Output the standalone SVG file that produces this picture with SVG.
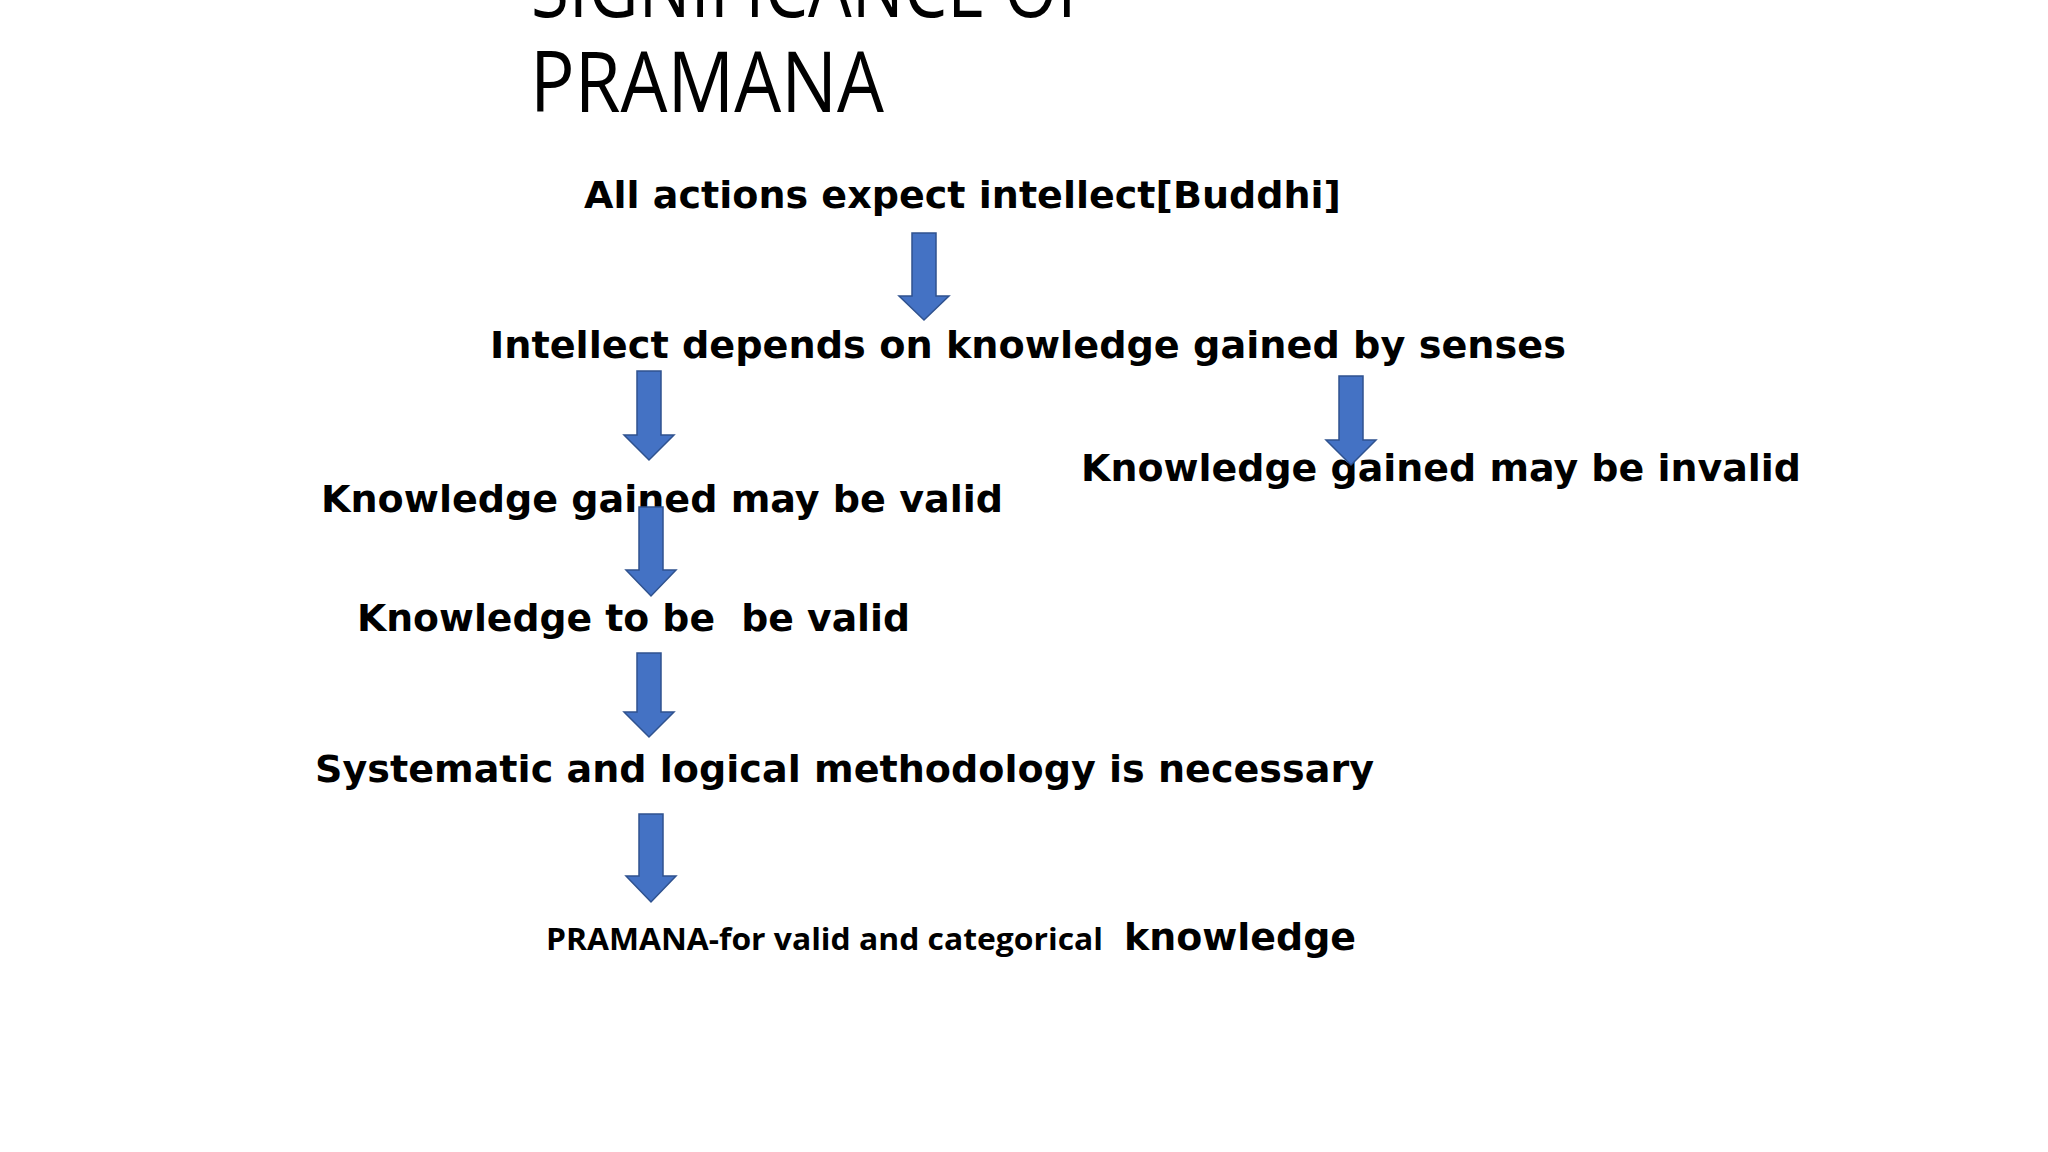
<svg xmlns="http://www.w3.org/2000/svg" width="2048" height="1152" viewBox="0 0 2048 1152">
<style>
.title{font-family:"Open Sans","Noto Sans","Liberation Sans",sans-serif;font-size:84px;fill:#000}
.t{font-family:"DejaVu Sans","Verdana",sans-serif;font-weight:bold;font-size:38px;fill:#000}
.s{font-family:"Open Sans","Liberation Sans",sans-serif;font-weight:bold;font-size:31px;fill:#000}
.arr{fill:#4472C4;stroke:#2F528F;stroke-width:1.5;stroke-linejoin:miter}
</style>
<rect width="2048" height="1152" fill="#ffffff"/>
<g id="title">
<text class="title" x="531" y="17" textLength="562" lengthAdjust="spacingAndGlyphs">SIGNIFICANCE OF</text>
<text class="title" x="530" y="112" textLength="354" lengthAdjust="spacingAndGlyphs">PRAMANA</text>
</g>
<g id="n1"><text class="t" x="584" y="208" textLength="757" lengthAdjust="spacingAndGlyphs">All actions expect intellect[Buddhi]</text></g>
<g id="n2"><text class="t" x="490" y="358" textLength="1076" lengthAdjust="spacingAndGlyphs">Intellect depends on knowledge gained by senses</text></g>
<g id="n3"><text class="t" x="321" y="512" textLength="682" lengthAdjust="spacingAndGlyphs">Knowledge gained may be valid</text></g>
<g id="n4"><text class="t" x="1081" y="481" textLength="720" lengthAdjust="spacingAndGlyphs">Knowledge gained may be invalid</text></g>
<g id="n5"><text class="t" x="357" y="631" textLength="553" lengthAdjust="spacingAndGlyphs" xml:space="preserve">Knowledge to be  be valid</text></g>
<g id="n6"><text class="t" x="315" y="782" textLength="1059" lengthAdjust="spacingAndGlyphs">Systematic and logical methodology is necessary</text></g>
<g id="n7">
<text class="s" x="546" y="950" textLength="557" lengthAdjust="spacingAndGlyphs">PRAMANA-for valid and categorical</text>
<text class="t" x="1124" y="950" textLength="232" lengthAdjust="spacingAndGlyphs">knowledge</text>
</g>
<g id="connectors">
<path class="arr" d="M912,233 H936 V296 H949 L924,320 L899,296 H912 Z"/>
<path class="arr" d="M637,371 H661 V435 H674 L649,460 L624,435 H637 Z"/>
<path class="arr" d="M1339,376 H1363 V440 H1376 L1351,465 L1326,440 H1339 Z"/>
<path class="arr" d="M639,507 H663 V570 H676 L651,596 L626,570 H639 Z"/>
<path class="arr" d="M637,653 H661 V712 H674 L649,737 L624,712 H637 Z"/>
<path class="arr" d="M639,814 H663 V876 H676 L651,902 L626,876 H639 Z"/>
</g>
</svg>
